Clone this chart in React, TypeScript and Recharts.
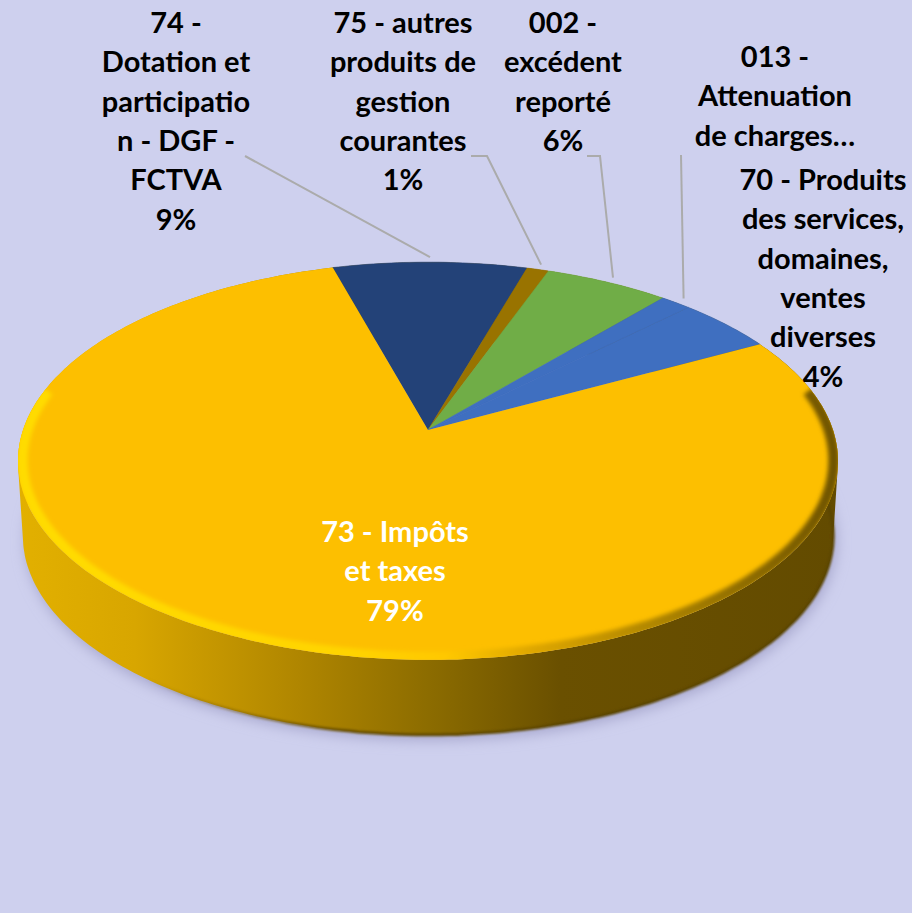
import React from 'react';
import { Pie, PieChart } from 'recharts';

const categories = ['74', '75', '002', '013', '70', '73'];
const shares = [8.9, 1, 5.7, 1.4, 4.49, 78.51];
const sliceColors = ['#234278', '#997300', '#70AD47', '#3F6FC0', '#3F6FC0', '#FDBF00'];
const labelLines = [
  ['74 -', 'Dotation et', 'participatio', 'n - DGF -', 'FCTVA'],
  ['75 - autres', 'produits de', 'gestion', 'courantes'],
  ['002 -', 'excédent', 'reporté'],
  ['013 -', 'Attenuation', 'de charges…'],
  ['70 - Produits', 'des services,', 'domaines,', 'ventes', 'diverses'],
  ['73 - Impôts', 'et taxes'],
];
const showPercent = [true, true, true, false, true, true];

// where the text blocks and leader lines sit
const labelAnchors = [
  { x: 176, y: 33 },
  { x: 403, y: 33 },
  { x: 563, y: 33 },
  { x: 775, y: 67 },
  { x: 823, y: 190 },
  { x: 395, y: 542 },
];
const leaderStarts: (number[][] | null)[] = [
  [[245, 156]],
  [[471, 156], [487, 156]],
  [[587, 156], [600, 156]],
  [[681, 155]],
  null,
  null,
];

const data = categories.map((name, i) => ({ name, value: shares[i], fill: sliceColors[i] }));

// perspective of the tilted disc
const CX = 428;
const CY = 430;
const RX = 405;
const RY = 194;
const TILT = 0.156;
const DEPTH = 75;
const LINE_HEIGHT = 39.3;
const START_ANGLE = 105.7;

function project(angle: number, r = 1) {
  const rad = (angle * Math.PI) / 180;
  const u = r * Math.cos(rad);
  const v = -r * Math.sin(rad);
  const den = 1 - TILT * v;
  return { x: CX + (RX * u) / den, y: CY + (RY * v) / den };
}

function arcXY(from: number, to: number, r = 1, dy = 0, sx = 1) {
  const n = Math.max(2, Math.ceil(Math.abs(to - from)));
  const pts: number[][] = [];
  for (let i = 0; i <= n; i++) {
    const p = project(from + ((to - from) * i) / n, r);
    pts.push([CX + (p.x - CX) * sx, p.y + dy]);
  }
  return pts;
}

function toPath(pts: number[][]) {
  return pts.map((p) => `${p[0].toFixed(1)} ${p[1].toFixed(1)}`).join('L');
}

// the side of the disc, one quad per arc step, all wound the same way so overlaps stay filled
function wallPath(top: number[][], bottom: number[][]) {
  const parts: string[] = [];
  for (let i = 0; i < top.length - 1; i++) {
    const quad = [top[i], top[i + 1], bottom[i + 1], bottom[i]];
    let area = 0;
    quad.forEach((p, j) => {
      const q = quad[(j + 1) % 4];
      area += p[0] * q[1] - q[0] * p[1];
    });
    if (area < 0) quad.reverse();
    parts.push(`M${toPath(quad)}Z`);
  }
  return parts.join('');
}

function WallShape(props: any) {
  const { startAngle, endAngle } = props;
  const top = arcXY(startAngle, endAngle);
  const bottom = arcXY(startAngle, endAngle, 1, DEPTH, 0.988);
  return (
    <g>
      <path d={`M${CX} ${CY + DEPTH}L${toPath(bottom)}Z`} transform="translate(3 5)" fill="#A6A6CC" filter="url(#softShadow)" />
      <path d={wallPath(top, bottom)} fill="url(#wallFill)" />
      <path d={`M${toPath(bottom)}`} fill="none" stroke="url(#wallEdge)" strokeWidth={3} filter="url(#softEdge)" />
    </g>
  );
}

function TopShape(props: any) {
  const { startAngle, endAngle, fill, index } = props;
  const face = `M${CX} ${CY}L${toPath(arcXY(startAngle, endAngle))}Z`;
  if (index !== categories.length - 1) {
    return <path d={face} fill={fill} stroke={fill} strokeWidth={0.6} />;
  }
  const rimFrom = Math.min(startAngle, 12);
  const rimTo = Math.max(endAngle, -192);
  return (
    <g>
      <clipPath id="faceClip">
        <path d={face} />
      </clipPath>
      <path d={face} fill={fill} />
      <g clipPath="url(#faceClip)">
        <path
          d={`M${toPath(arcXY(rimFrom, rimTo, 0.99))}`}
          fill="none"
          stroke="url(#rimFill)"
          strokeWidth={11}
          filter="url(#softRim)"
        />
      </g>
    </g>
  );
}

function renderLabel(props: any) {
  const { index, percent } = props;
  const anchor = labelAnchors[index];
  const lines = [...labelLines[index]];
  if (showPercent[index]) lines.push(`${Math.round(percent * 100)}%`);
  return (
    <text
      key={categories[index]}
      x={anchor.x}
      y={anchor.y}
      textAnchor="middle"
      fontFamily="Lato, sans-serif"
      fontWeight={700}
      fontSize={29}
      fill={index === categories.length - 1 ? '#FFFFFF' : '#000000'}
    >
      {lines.map((line, i) => (
        <tspan key={i} x={anchor.x} y={anchor.y + i * LINE_HEIGHT}>
          {line}
        </tspan>
      ))}
    </text>
  );
}

function renderLeader(props: any) {
  const { index, midAngle } = props;
  const start = leaderStarts[index];
  if (!start) return <g key={`leader-${index}`} />;
  const end = project(midAngle, 1.035);
  const pts = [...start, [end.x, end.y]];
  return <path key={`leader-${index}`} d={`M${toPath(pts)}`} fill="none" stroke="#ABABAB" strokeWidth={2} />;
}

export default function App() {
  return (
    <div style={{ position: 'absolute', left: 0, top: 0, width: 912, height: 913, background: '#CED0EE', overflow: 'hidden' }}>
      <PieChart width={912} height={913} margin={{ top: 0, right: 0, bottom: 0, left: 0 }}>
        <defs>
          <linearGradient id="wallFill" gradientUnits="userSpaceOnUse" x1={20} y1={0} x2={838} y2={0}>
            <stop offset="0" stopColor="#E2B000" />
            <stop offset="0.14" stopColor="#D8A600" />
            <stop offset="0.34" stopColor="#B08600" />
            <stop offset="0.5" stopColor="#8C6C00" />
            <stop offset="0.66" stopColor="#6A5000" />
            <stop offset="1" stopColor="#634B00" />
          </linearGradient>
          <linearGradient id="wallEdge" gradientUnits="userSpaceOnUse" x1={20} y1={0} x2={838} y2={0}>
            <stop offset="0.15" stopColor="#7A5C00" stopOpacity={0} />
            <stop offset="0.4" stopColor="#6A5000" />
            <stop offset="0.7" stopColor="#5A4400" />
          </linearGradient>
          <linearGradient id="rimFill" gradientUnits="userSpaceOnUse" x1={20} y1={0} x2={838} y2={0}>
            <stop offset="0" stopColor="#FFDC00" />
            <stop offset="0.4" stopColor="#FFD400" />
            <stop offset="0.52" stopColor="#FFC800" />
            <stop offset="0.62" stopColor="#E0A800" />
            <stop offset="0.8" stopColor="#A88000" />
            <stop offset="1" stopColor="#6E5300" />
          </linearGradient>
          <filter id="softShadow" x="-10%" y="-10%" width="120%" height="120%">
            <feGaussianBlur stdDeviation={7} />
          </filter>
          <filter id="softRim" filterUnits="userSpaceOnUse" x={0} y={200} width={912} height={600}>
            <feGaussianBlur stdDeviation={2.2} />
          </filter>
          <filter id="softEdge" filterUnits="userSpaceOnUse" x={0} y={200} width={912} height={600}>
            <feGaussianBlur stdDeviation={0.8} />
          </filter>
        </defs>
        <Pie
          data={data}
          dataKey="value"
          nameKey="name"
          cx={CX}
          cy={CY}
          outerRadius={RX}
          startAngle={START_ANGLE}
          endAngle={START_ANGLE - 360}
          stroke="none"
          shape={WallShape}
          label={false}
          labelLine={false}
          isAnimationActive={false}
        />
        <Pie
          data={data}
          dataKey="value"
          nameKey="name"
          cx={CX}
          cy={CY}
          outerRadius={RX}
          startAngle={START_ANGLE}
          endAngle={START_ANGLE - 360}
          stroke="none"
          shape={TopShape}
          label={renderLabel}
          labelLine={renderLeader}
          isAnimationActive={false}
        />
      </PieChart>
    </div>
  );
}
